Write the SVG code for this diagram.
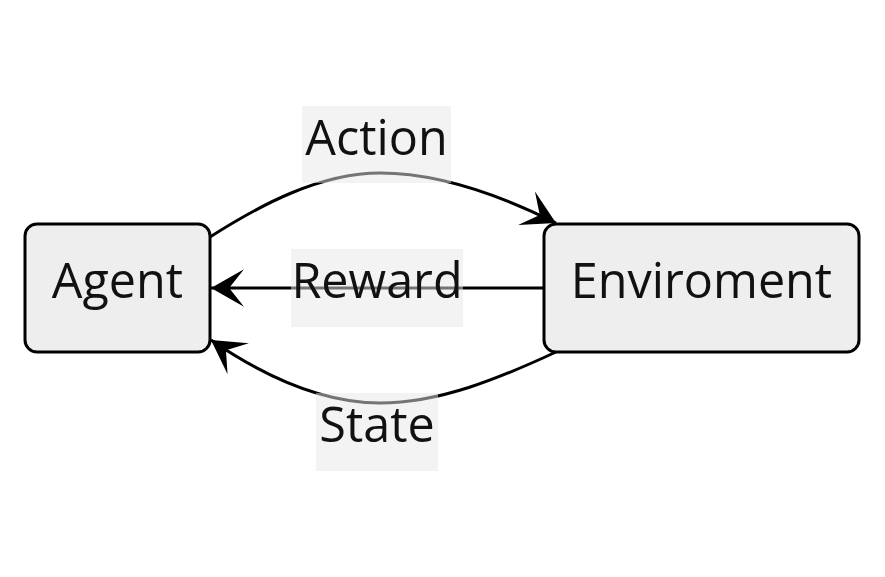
<svg xmlns="http://www.w3.org/2000/svg" width="885" height="577" viewBox="0 0 885 577">
  <style>
    .node rect { fill: #eeeeee; stroke: #000; stroke-width: 3; }
    .node text, .label text { font-family: "Open Sans", "Noto Sans", sans-serif; font-size: 48.5px; fill: #111; text-anchor: middle; }
    .edge { fill: none; stroke: #000; stroke-width: 3; marker-end: url(#arrow); }
    .label rect { fill: #e8e8e8; fill-opacity: 0.5; }
  </style>
  <defs>
    <marker id="arrow" viewBox="0 0 10 11.4" refX="10" refY="5.7" markerWidth="33" markerHeight="37.6" markerUnits="userSpaceOnUse" orient="auto">
      <path d="M0,0 L10,5.7 L0,11.4 L4.5,5.7 z" fill="#000"/>
    </marker>
  </defs>
  <rect width="885" height="577" fill="#fff"/>
  <g id="connectors">
    <path class="edge" d="M210,237 C260,205 320,173 380,173 C440,173 500,195 556,223"/>
    <path class="edge" d="M544,288 L211,288"/>
    <path class="edge" d="M556,352 C500,378 440,403 380,403 C320,403 262,375 211,340"/>
  </g>
  <g id="agent" class="node">
    <rect x="25" y="224" width="185" height="128" rx="12"/>
    <text x="117.5" y="298">Agent</text>
  </g>
  <g id="enviroment" class="node">
    <rect x="544" y="224" width="315" height="128" rx="12"/>
    <text x="701.5" y="298">Enviroment</text>
  </g>
  <g id="label-action" class="label">
    <rect x="302" y="106" width="149" height="77"/>
    <text x="376.5" y="155">Action</text>
  </g>
  <g id="label-reward" class="label">
    <rect x="291" y="249" width="172" height="78"/>
    <text x="377" y="298">Reward</text>
  </g>
  <g id="label-state" class="label">
    <rect x="316" y="393" width="122" height="78"/>
    <text x="377" y="442">State</text>
  </g>
</svg>
